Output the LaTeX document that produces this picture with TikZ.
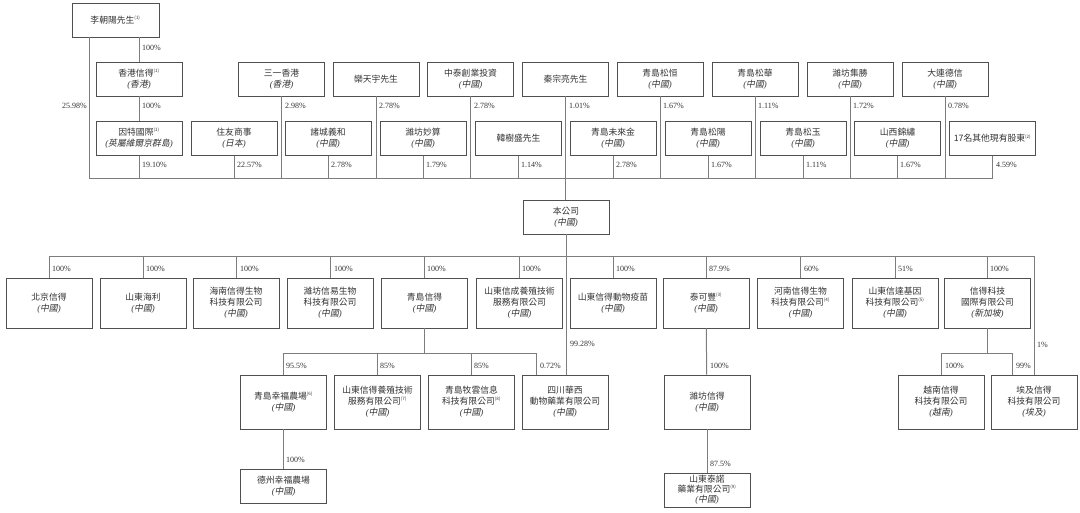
\documentclass[tikz,border=0pt]{standalone}
\usepackage{fontspec}
\setmainfont{Liberation Serif}
\newfontfamily\cjk{Noto Sans CJK TC}
\newfontfamily\cjkit[FakeSlant=0.2]{Noto Sans CJK TC}
\usetikzlibrary{calc}
\definecolor{boxgray}{RGB}{80,80,80}
\definecolor{lngray}{RGB}{125,125,125}
\definecolor{txtgray}{RGB}{50,50,50}
\newcommand{\supn}[1]{\textsuperscript{\fontsize{4.5}{5}\selectfont(#1)}}
\newcommand{\regn}[1]{{\rmfamily\itshape(}{\cjkit #1}{\rmfamily\itshape)}}

\begin{document}
\begin{tikzpicture}[x=1pt, y=-1pt,
  ent/.style={rectangle, draw=boxgray, line width=0.8pt, minimum width=86pt, minimum height=34pt, align=center, inner sep=1pt, text=txtgray, font=\cjk\fontsize{8.8}{11}\selectfont},
  tall/.style={ent, minimum height=50pt},
  taller/.style={ent, minimum height=54pt},
  ln/.style={draw=lngray, line width=1pt},
  pct/.style={font=\fontsize{8}{9}\selectfont, text=txtgray, inner sep=0pt, anchor=west}
]
  \useasboundingbox (0,0) rectangle (1080,512);
  % shareholders
  \node[ent, minimum width=87pt] (lzy) at (115.5,20) {李朝陽先生\supn{1}};
  \node[ent] (hkxd) at (139,79) {香港信得\supn{1}\\\regn{香港}};
  \node[ent] (sany) at (281.5,79) {三一香港\\\regn{香港}};
  \node[ent] (luan) at (376,79) {欒天宇先生};
  \node[ent] (zhtai) at (470.5,79) {中泰創業投資\\\regn{中國}};
  \node[ent] (qin) at (565.5,79) {秦宗亮先生};
  \node[ent] (qdsh) at (660,79) {青島松恒\\\regn{中國}};
  \node[ent] (qdshua) at (755,79) {青島松華\\\regn{中國}};
  \node[ent] (wfjs) at (850,79) {濰坊集勝\\\regn{中國}};
  \node[ent] (dlds) at (945,79) {大連德信\\\regn{中國}};
  \node[ent] (ytgj) at (139,138.5) {因特國際\supn{1}\\\regn{英屬維爾京群島}};
  \node[ent] (zysh) at (234,138.5) {住友商事\\\regn{日本}};
  \node[ent] (zcyh) at (328,138.5) {諸城義和\\\regn{中國}};
  \node[ent] (wfms) at (423,138.5) {濰坊妙算\\\regn{中國}};
  \node[ent] (hss) at (518.5,138.5) {韓樹盛先生};
  \node[ent] (qdwl) at (613,138.5) {青島未來金\\\regn{中國}};
  \node[ent] (qdsy) at (708,138.5) {青島松陽\\\regn{中國}};
  \node[ent] (qdsyu) at (803,138.5) {青島松玉\\\regn{中國}};
  \node[ent] (sxjx) at (897.5,138.5) {山西錦繡\\\regn{中國}};
  \node[ent] (others) at (992.5,138.5) {17名其他現有股東\supn{2}};
  % company
  \node[ent] (co) at (566,217) {本公司\\\regn{中國}};
  % subsidiaries
  \node[tall] (bjxd) at (49,303) {北京信得\\\regn{中國}};
  \node[tall] (sdhl) at (143,303) {山東海利\\\regn{中國}};
  \node[tall] (hnxd) at (236,303) {海南信得生物\\科技有限公司\\\regn{中國}};
  \node[tall] (wfxy) at (330,303) {濰坊信易生物\\科技有限公司\\\regn{中國}};
  \node[tall] (qdxd) at (424.5,303) {青島信得\\\regn{中國}};
  \node[tall] (sdxc) at (519.5,303) {山東信成養殖技術\\服務有限公司\\\regn{中國}};
  \node[tall] (sddw) at (613,303) {山東信得動物疫苗\\\regn{中國}};
  \node[tall] (tkf) at (706,303) {泰可豐\supn{3}\\\regn{中國}};
  \node[tall] (hnsw) at (800.5,303) {河南信得生物\\科技有限公司\supn{4}\\\regn{中國}};
  \node[tall] (sdxda) at (895,303) {山東信達基因\\科技有限公司\supn{5}\\\regn{中國}};
  \node[tall] (xdgj) at (987.5,303) {信得科技\\國際有限公司\\\regn{新加坡}};
  \node[taller] (qdxf) at (283.5,402) {青島幸福農場\supn{6}\\\regn{中國}};
  \node[taller] (sdyz) at (377.5,402) {山東信得養殖技術\\服務有限公司\supn{7}\\\regn{中國}};
  \node[taller] (qdmy) at (471.5,402) {青島牧雲信息\\科技有限公司\supn{8}\\\regn{中國}};
  \node[taller] (schx) at (565,402) {四川華西\\動物藥業有限公司\\\regn{中國}};
  \node[taller] (wfxd) at (707,402) {濰坊信得\\\regn{中國}};
  \node[taller] (vnxd) at (941,402) {越南信得\\科技有限公司\\\regn{越南}};
  \node[taller] (egxd) at (1034,402) {埃及信得\\科技有限公司\\\regn{埃及}};
  \node[ent] (dzxf) at (283.5,486) {德州幸福農場\\\regn{中國}};
  \node[ent, inner sep=0pt, font=\cjk\fontsize{8.8}{10.2}\selectfont] (sdtn) at (707,490) {山東泰諾\\藥業有限公司\supn{9}\\\regn{中國}};
  % upper bus
  \coordinate (bus1) at (90,178);
  \coordinate (bus1e) at (993,178);
  \coordinate (lzyl) at ([xshift=18pt]lzy.south west);
  \draw[ln] (lzyl) -- (lzyl |- bus1) -- (bus1e);
  \draw[ln] (hkxd.north) -- (hkxd.north |- lzy.south);
  \draw[ln] (hkxd) -- (ytgj);
  \foreach \n in {sany,luan,zhtai,qdsh,qdshua,wfjs,dlds,ytgj,zysh,zcyh,wfms,hss,qdwl,qdsy,qdsyu,sxjx,others}
    \draw[ln] (\n.south) -- (\n.south |- bus1);
  \draw[ln] (qin.south) -- (qin.south |- co.north);
  % lower bus
  \coordinate (bus2) at (49,256);
  \draw[ln] (bjxd.north |- bus2) -- (egxd.north |- bus2) -- (egxd.north);
  \foreach \n in {bjxd,sdhl,hnxd,wfxy,qdxd,sdxc,sddw,tkf,hnsw,sdxda,xdgj}
    \draw[ln] (\n.north) -- (\n.north |- bus2);
  \draw[ln] (co.south) -- (co.south |- schx.north);
  % third level
  \coordinate (bus3) at (0,353);
  \coordinate (schxl) at ([xshift=15pt]schx.north west);
  \coordinate (egl) at ([xshift=22pt]egxd.north west);
  \draw[ln] (qdxd.south) -- (qdxd.south |- bus3);
  \draw[ln] (qdxf.north) -- (qdxf.north |- bus3) -- (schxl |- bus3) -- (schxl);
  \foreach \n in {sdyz,qdmy}
    \draw[ln] (\n.north) -- (\n.north |- bus3);
  \draw[ln] (xdgj.south) -- (xdgj.south |- bus3);
  \draw[ln] (vnxd.north) -- (vnxd.north |- bus3) -- (egl |- bus3) -- (egl);
  \draw[ln] (tkf) -- (wfxd);
  \draw[ln] (wfxd) -- (sdtn);
  \draw[ln] (qdxf) -- (dzxf);
  % percentages
  \node[pct, anchor=east] (plzy) at (87,106) {25.98\%};
  \node[pct] (phk1) at (142,48) {100\%};
  \foreach \x/\t [count=\i] in {142/100,285/2.98,379/2.78,474/2.78,569/1.01,663/1.67,758/1.11,853/1.72,948/0.78}
    \node[pct] (ra\i) at (\x,106) {\t\%};
  \foreach \x/\t [count=\i] in {142/19.10,237/22.57,331/2.78,426/1.79,521/1.14,616/2.78,711/1.67,806/1.11,900/1.67,996/4.59}
    \node[pct] (rb\i) at (\x,165) {\t\%};
  \foreach \x/\t [count=\i] in {52/100,146/100,240/100,334/100,427/100,522/100,616/100,709/87.9,804/60,898/51,990/100}
    \node[pct] (rc\i) at (\x,269) {\t\%};
  \foreach \x/\t [count=\i] in {286/95.5,380/85,474/85,540/0.72,710/100,945/100,1016/99}
    \node[pct] (rd\i) at (\x,366) {\t\%};
  \node[pct] (psc) at (570,344) {99.28\%};
  \node[pct] (peg) at (1037,345) {1\%};
  \node[pct] (pdz) at (286,460) {100\%};
  \node[pct] (ptn) at (710,464) {87.5\%};
\end{tikzpicture}
\end{document}
